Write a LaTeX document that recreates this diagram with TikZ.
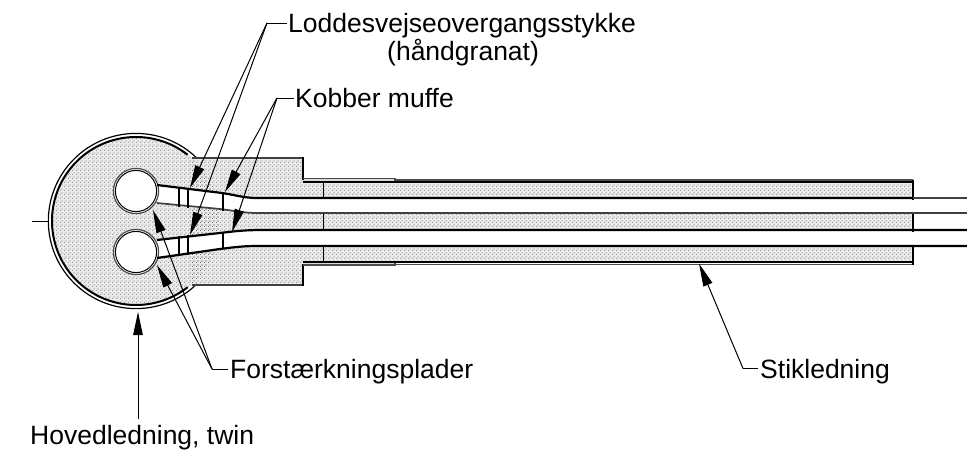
\documentclass[tikz,border=0pt]{standalone}
\usepackage{fontspec}
\setmainfont{Liberation Sans}
\usetikzlibrary{patterns,arrows.meta}
\pgfdeclarepatternformonly{stip}{\pgfpointorigin}{\pgfpoint{4pt}{4pt}}{\pgfpoint{4pt}{4pt}}{%
  \pgfpathrectangle{\pgfpoint{0pt}{0pt}}{\pgfpoint{0.9pt}{0.9pt}}\pgfpathrectangle{\pgfpoint{2pt}{2pt}}{\pgfpoint{0.9pt}{0.9pt}}\pgfusepath{fill}}
\tikzset{
  lbl/.style={inner sep=0pt,font=\fontsize{26.5}{30}\selectfont,anchor=base west},
  lead/.style={line width=1pt},
  tip/.style={lead,-{Triangle[length=23pt,width=9.5pt]}},
  thick line/.style={line width=2.2pt},
  mid line/.style={line width=1.7pt,draw=black!75},
  grayline/.style={line width=1.2pt,draw=black!70},
}
\begin{document}
\begin{tikzpicture}[x=1pt,y=-1pt]
\useasboundingbox (0,0) rectangle (967,455);
% shaded body
\foreach \c in {black!8}{
  \fill[\c] (136,221) circle[radius=84];
  \fill[\c] (136,158) rectangle (303,285);
  \fill[\c] (303,181) rectangle (913,263);
}
\fill[black!15] (303,178.6) rectangle (395,181);
\fill[black!15] (303,263) rectangle (395,265);
\fill[pattern=stip,pattern color=black!85] (136,221) circle[radius=84];
\fill[pattern=stip,pattern color=black!85] (190,158) rectangle (303,285);
\fill[pattern=stip,pattern color=black!85] (303,181) rectangle (913,263);
% cables (white)
\fill[white] (157,185) -- (222,193) .. controls (236,195) and (243,198) .. (258,198) -- (913,198) -- (913,213) -- (258,213) .. controls (243,213) and (236,211) .. (220,209) -- (157,203) -- cycle;
\fill[white] (157,240) -- (220,233) .. controls (236,231) and (246,230) .. (263,230) -- (913,230) -- (913,246) -- (258,246) .. controls (243,246) and (236,247) .. (220,249) -- (157,258) -- cycle;
\fill[white] (136,191) circle[radius=22];
\fill[white] (136,252) circle[radius=22];
% small circles
\draw[grayline] (136,191) circle[radius=22.6];
\draw[line width=1pt] (136,191) circle[radius=20.6];
\draw[grayline] (136,252) circle[radius=22.6];
\draw[line width=1pt] (136,252) circle[radius=20.6];
% big circle
\draw[line width=1.2pt] (196.8,158) arc[start angle=-46,end angle=-314,radius=87.6];
\draw[line width=2pt] (187.7,154.8) arc[start angle=-52,end angle=-308,radius=84];
% body outline
\draw[mid line] (192,158) -- (303,158);
\draw[mid line] (192,285) -- (303,285);
\draw[line width=2.4pt] (303,157) -- (303,180);
\draw[line width=2.4pt] (303,286) -- (303,264);
\draw[grayline] (303,178.6) -- (395,178.6) -- (395,181);
\draw[grayline] (303,265) -- (395,265) -- (395,263);
\draw[grayline] (395,180) -- (913,180);
\draw[grayline] (395,264.6) -- (913,264.6);
\draw[thick line] (303,181.8) -- (913,181.8);
\draw[line width=1.6pt] (303,262) -- (913,262);
\foreach \a/\b in {181/198,213/230,246/263}{
  \draw[line width=1pt] (323,\a) -- (323,\b);
  \draw[line width=2.4pt] (913,\a-1) -- (913,\b+2);
}
% cable edges
\draw[thick line] (157,185) -- (222,193) .. controls (236,195) and (243,198) .. (258,198) -- (913,198);
\draw[mid line] (913,198) -- (967,198);
\draw[mid line] (157,203) -- (220,209) .. controls (236,211) and (243,213) .. (258,213) -- (967,213);
\draw[thick line] (157,240) -- (220,233) .. controls (236,231) and (246,230) .. (263,230) -- (967,230);
\draw[thick line] (157,258) -- (220,249) .. controls (236,247) and (243,246) .. (258,246) -- (967,246);
% sleeves
\foreach \x/\a/\b/\c/\d in {179/188/207/236/256,188/189/208/235/255,223/193/211/232/249}{
  \draw[thick line] (\x,\a) -- (\x,\b);
  \draw[thick line] (\x,\c) -- (\x,\d);
}
% tick
\coordinate (tickA) at (32,221);
\coordinate (tickB) at (48,221);
\draw[lead] (tickA) -- (tickB);
% labels
\node[lbl] (lod) at (288,32) {Loddesvejseovergangsstykke};
\node[lbl] (han) at (387,60) {(håndgranat)};
\node[lbl] (kob) at (295,107) {Kobber muffe};
\node[lbl] (for) at (230,378) {Forstærkningsplader};
\node[lbl] (sti) at (760,378) {Stikledning};
\node[lbl] (hov) at (30,444) {Hovedledning, twin};
% leaders
\coordinate (e1) at (267,23);
\coordinate (e2) at (277,98);
\coordinate (e3) at (212,369);
\coordinate (e4) at (743,368.5);
\coordinate (e5) at (138,419);
\coordinate (t1) at (190,188);
\coordinate (t2) at (190,235);
\coordinate (t3) at (225,192);
\coordinate (t4) at (232,232);
\coordinate (t5) at (153,210);
\coordinate (t6) at (157,265);
\coordinate (t7) at (699,263.5);
\coordinate (t8) at (138,312);
\draw[lead,shorten <=1.5pt] (e1 -| lod.west) -- (e1);
\draw[tip] (e1) -- (t1);
\draw[tip] (e1) -- (t2);
\draw[lead,shorten <=1.5pt] (e2 -| kob.west) -- (e2);
\draw[tip] (e2) -- (t3);
\draw[tip] (e2) -- (t4);
\draw[lead,shorten <=2pt] (e3 -| for.west) -- (e3);
\draw[tip] (e3) -- (t5);
\draw[tip] (e3) -- (t6);
\draw[lead,shorten <=2pt] (e4 -| sti.west) -- (e4);
\draw[tip] (e4) -- (t7);
\draw[tip] (e5) -- (t8);
\end{tikzpicture}
\end{document}
